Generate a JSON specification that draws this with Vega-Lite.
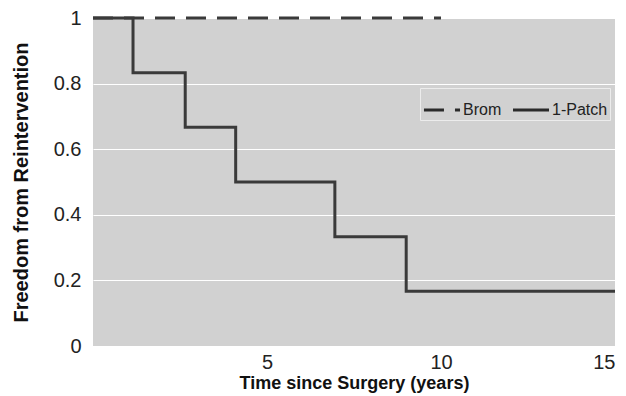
{
  "$schema": "https://vega.github.io/schema/vega-lite/v6.json",
  "autosize": {"type": "none"},
  "width": 522,
  "height": 328,
  "padding": {"left": 93, "top": 18, "right": 11, "bottom": 50},
  "background": "white",
  "config": {
    "font": "Liberation Sans",
    "view": {"fill": "#d1d1d1", "stroke": null}
  },
  "data": {
    "values": [
      {"group": "Brom", "t": 0, "s": 1},
      {"group": "Brom", "t": 10, "s": 1},
      {"group": "1-Patch", "t": 0, "s": 1},
      {"group": "1-Patch", "t": 1.15, "s": 0.833},
      {"group": "1-Patch", "t": 2.65, "s": 0.667},
      {"group": "1-Patch", "t": 4.1, "s": 0.5},
      {"group": "1-Patch", "t": 6.95, "s": 0.333},
      {"group": "1-Patch", "t": 9.0, "s": 0.167},
      {"group": "1-Patch", "t": 15, "s": 0.167}
    ]
  },
  "mark": {"type": "line", "interpolate": "step-after", "strokeWidth": 3, "color": "#3a3a3a", "clip": false},
  "encoding": {
    "x": {
      "field": "t", "type": "quantitative",
      "scale": {"domain": [0, 15], "nice": false, "zero": false},
      "axis": {
        "values": [5, 10, 15], "grid": false, "domain": false, "ticks": false,
        "labelFontSize": 20, "labelColor": "#222", "labelPadding": 6,
        "title": "Time since Surgery (years)", "titleFontSize": 18, "titleFontWeight": "bold",
        "titleColor": "#111", "titlePadding": 2
      }
    },
    "y": {
      "field": "s", "type": "quantitative",
      "scale": {"domain": [0, 1], "nice": false},
      "axis": {
        "values": [0, 0.2, 0.4, 0.6, 0.8, 1], "format": "~g", "grid": true, "gridColor": "white", "gridWidth": 1,
        "domain": false, "ticks": false,
        "labelFontSize": 20, "labelColor": "#222", "labelPadding": 12,
        "title": "Freedom from Reintervention", "titleFontSize": 20, "titleFontWeight": "bold",
        "titleColor": "#111", "titlePadding": 22
      }
    },
    "strokeDash": {
      "field": "group", "type": "nominal",
      "scale": {"domain": ["Brom", "1-Patch"], "range": [[20, 11], [1, 0]]},
      "legend": {
        "title": null, "orient": "none", "direction": "horizontal",
        "legendX": 327, "legendY": 70,
        "fillColor": "#d1d1d1", "strokeColor": "#ececec", "padding": 2,
        "symbolType": "stroke", "symbolSize": 1300, "symbolStrokeWidth": 3, "symbolStrokeColor": "#2a2a2a",
        "labelFontSize": 16, "labelColor": "#222", "columnPadding": 4, "labelOffset": 1
      }
    },
    "order": {"field": "group", "sort": "descending"}
  }
}
